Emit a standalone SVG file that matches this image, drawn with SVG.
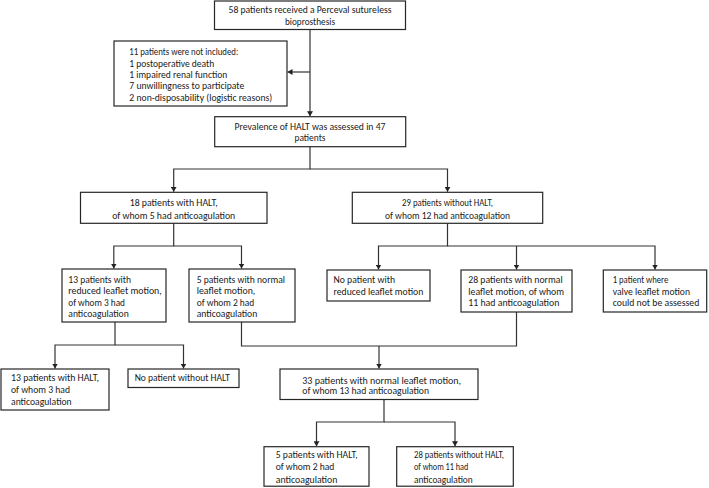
<svg xmlns="http://www.w3.org/2000/svg" width="709" height="488" viewBox="0 0 709 488">
<style>
  .bg{fill:#ffffff}
  .box{fill:#ffffff;stroke:#262626;stroke-width:1.2}
  .t{font-family:Carlito,"Liberation Sans",Arial,sans-serif;font-size:9.6px;fill:#1a1a1a}
  .c{text-anchor:middle}
  .edge{fill:none;stroke:#333333;stroke-width:1.2}
</style>
<defs>
  <marker id="arr" markerUnits="userSpaceOnUse" markerWidth="6" markerHeight="6" refX="5" refY="3" orient="auto">
    <path d="M0,0 L5,3 L0,6 z" fill="#222222"/>
  </marker>
</defs>
<rect class="bg" x="0" y="0" width="709" height="488"/>

<g id="connectors">
  <path class="edge" d="M310,29.5 V116.2" marker-end="url(#arr)"/>
  <path class="edge" d="M310,72 H287.5" marker-end="url(#arr)"/>
  <path class="edge" d="M310,146.7 V169 H173.7 V191.8" marker-end="url(#arr)"/>
  <path class="edge" d="M310,169 H447.5 V191.8" marker-end="url(#arr)"/>
  <path class="edge" d="M173.7,223.3 V246 H113.8 V268.5" marker-end="url(#arr)"/>
  <path class="edge" d="M173.7,246 H241.5 V268.5" marker-end="url(#arr)"/>
  <path class="edge" d="M447.5,223.3 V246 H378.5 V269.5" marker-end="url(#arr)"/>
  <path class="edge" d="M447.5,246 H655 V269.5" marker-end="url(#arr)"/>
  <path class="edge" d="M516.5,246 V269.5" marker-end="url(#arr)"/>
  <path class="edge" d="M115,322 V345 H55 V368.5" marker-end="url(#arr)"/>
  <path class="edge" d="M115,345 H183.5 V368.5" marker-end="url(#arr)"/>
  <path class="edge" d="M241.5,322 V346 H516.5 V312"/>
  <path class="edge" d="M379,346 V368.5" marker-end="url(#arr)"/>
  <path class="edge" d="M384,399.5 V422 H316.5 V446.2" marker-end="url(#arr)"/>
  <path class="edge" d="M384,422 H455 V446.2" marker-end="url(#arr)"/>
</g>

<g id="n1">
  <rect class="box" x="214.5" y="1" width="191" height="28.5"/>
  <text class="t c" x="310" y="13" textLength="163" lengthAdjust="spacingAndGlyphs">58 patients received a Perceval sutureless</text>
  <text class="t c" x="310" y="25" textLength="50" lengthAdjust="spacingAndGlyphs">bioprosthesis</text>
</g>

<g id="n2">
  <rect class="box" x="114" y="41" width="173" height="65"/>
  <text class="t" x="129.3" y="55.3" textLength="109" lengthAdjust="spacingAndGlyphs">11 patients were not included:</text>
  <text class="t" x="129.3" y="66.6" textLength="85" lengthAdjust="spacingAndGlyphs">1 postoperative death</text>
  <text class="t" x="129.3" y="77.9" textLength="98" lengthAdjust="spacingAndGlyphs">1 impaired renal function</text>
  <text class="t" x="129.3" y="89.2" textLength="115" lengthAdjust="spacingAndGlyphs">7 unwillingness to participate</text>
  <text class="t" x="129.3" y="100.5" textLength="143" lengthAdjust="spacingAndGlyphs">2 non-disposability (logistic reasons)</text>
</g>

<g id="n3">
  <rect class="box" x="214.7" y="116.7" width="191" height="30"/>
  <text class="t c" x="310" y="130.2" textLength="151" lengthAdjust="spacingAndGlyphs">Prevalence of HALT was assessed in 47</text>
  <text class="t c" x="310" y="141.2" textLength="31" lengthAdjust="spacingAndGlyphs">patients</text>
</g>

<g id="n4">
  <rect class="box" x="80.5" y="192.3" width="186.5" height="31"/>
  <text class="t c" x="173.7" y="206.2" textLength="88" lengthAdjust="spacingAndGlyphs">18 patients with HALT,</text>
  <text class="t c" x="173.7" y="218.5" textLength="123" lengthAdjust="spacingAndGlyphs">of whom 5 had anticoagulation</text>
</g>

<g id="n5">
  <rect class="box" x="352.3" y="192.3" width="190.4" height="31"/>
  <text class="t c" x="447.5" y="206.2" textLength="91" lengthAdjust="spacingAndGlyphs">29 patients without HALT,</text>
  <text class="t c" x="447.5" y="218.5" textLength="125" lengthAdjust="spacingAndGlyphs">of whom 12 had anticoagulation</text>
</g>

<g id="n6">
  <rect class="box" x="62" y="269" width="104" height="53"/>
  <text class="t" x="68.3" y="282.8" textLength="62.7" lengthAdjust="spacingAndGlyphs">13 patients with</text>
  <text class="t" x="68.3" y="294.2" textLength="93.4" lengthAdjust="spacingAndGlyphs">reduced leaflet motion,</text>
  <text class="t" x="68.3" y="305.6" textLength="56.7" lengthAdjust="spacingAndGlyphs">of whom 3 had</text>
  <text class="t" x="68.3" y="317" textLength="60.4" lengthAdjust="spacingAndGlyphs">anticoagulation</text>
</g>

<g id="n7">
  <rect class="box" x="189" y="269" width="106" height="53"/>
  <text class="t" x="196.7" y="282.8" textLength="88.3" lengthAdjust="spacingAndGlyphs">5 patients with normal</text>
  <text class="t" x="196.7" y="294.2" textLength="58.6" lengthAdjust="spacingAndGlyphs">leaflet motion,</text>
  <text class="t" x="196.7" y="305.6" textLength="57.6" lengthAdjust="spacingAndGlyphs">of whom 2 had</text>
  <text class="t" x="196.7" y="317" textLength="60.6" lengthAdjust="spacingAndGlyphs">anticoagulation</text>
</g>

<g id="n8">
  <rect class="box" x="327" y="270" width="103" height="31"/>
  <text class="t" x="333.5" y="282.8" textLength="61.5" lengthAdjust="spacingAndGlyphs">No patient with</text>
  <text class="t" x="333.5" y="294.5" textLength="89.8" lengthAdjust="spacingAndGlyphs">reduced leaflet motion</text>
</g>

<g id="n9">
  <rect class="box" x="461" y="270" width="111" height="42"/>
  <text class="t" x="468.3" y="282.8" textLength="94.4" lengthAdjust="spacingAndGlyphs">28 patients with normal</text>
  <text class="t" x="468.3" y="294.5" textLength="95.7" lengthAdjust="spacingAndGlyphs">leaflet motion, of whom</text>
  <text class="t" x="468.3" y="305.8" textLength="91" lengthAdjust="spacingAndGlyphs">11 had anticoagulation</text>
</g>

<g id="n10">
  <rect class="box" x="603.3" y="270" width="103.4" height="42"/>
  <text class="t" x="612.7" y="282.8" textLength="55.6" lengthAdjust="spacingAndGlyphs">1 patient where</text>
  <text class="t" x="612.7" y="294.5" textLength="77.3" lengthAdjust="spacingAndGlyphs">valve leaflet motion</text>
  <text class="t" x="612.7" y="305.8" textLength="86.6" lengthAdjust="spacingAndGlyphs">could not be assessed</text>
</g>

<g id="n11">
  <rect class="box" x="1" y="369" width="108" height="41"/>
  <text class="t" x="11" y="380.8" textLength="88" lengthAdjust="spacingAndGlyphs">13 patients with HALT,</text>
  <text class="t" x="11" y="393.2" textLength="59" lengthAdjust="spacingAndGlyphs">of whom 3 had</text>
  <text class="t" x="11" y="404.5" textLength="60.7" lengthAdjust="spacingAndGlyphs">anticoagulation</text>
</g>

<g id="n12">
  <rect class="box" x="128" y="369" width="111" height="18.5"/>
  <text class="t" x="134.7" y="381.2" textLength="95.3" lengthAdjust="spacingAndGlyphs">No patient without HALT</text>
</g>

<g id="n13">
  <rect class="box" x="280" y="369" width="198" height="30.5"/>
  <text class="t" x="302.3" y="383.5" textLength="158.7" lengthAdjust="spacingAndGlyphs">33 patients with normal leaflet motion,</text>
  <text class="t" x="302.3" y="394.2" textLength="126.7" lengthAdjust="spacingAndGlyphs">of whom 13 had anticoagulation</text>
</g>

<g id="n14">
  <rect class="box" x="264" y="446.7" width="105" height="39.5"/>
  <text class="t" x="275.7" y="457.8" textLength="82" lengthAdjust="spacingAndGlyphs">5 patients with HALT,</text>
  <text class="t" x="275.7" y="470.2" textLength="58.7" lengthAdjust="spacingAndGlyphs">of whom 2 had</text>
  <text class="t" x="275.7" y="482.5" textLength="61.7" lengthAdjust="spacingAndGlyphs">anticoagulation</text>
</g>

<g id="n15">
  <rect class="box" x="396.7" y="446.7" width="116.6" height="39.5"/>
  <text class="t" x="414" y="457.8" textLength="90" lengthAdjust="spacingAndGlyphs">28 patients without HALT,</text>
  <text class="t" x="414" y="470.2" textLength="54.3" lengthAdjust="spacingAndGlyphs">of whom 11 had</text>
  <text class="t" x="414" y="482.5" textLength="58.7" lengthAdjust="spacingAndGlyphs">anticoagulation</text>
</g>
</svg>
